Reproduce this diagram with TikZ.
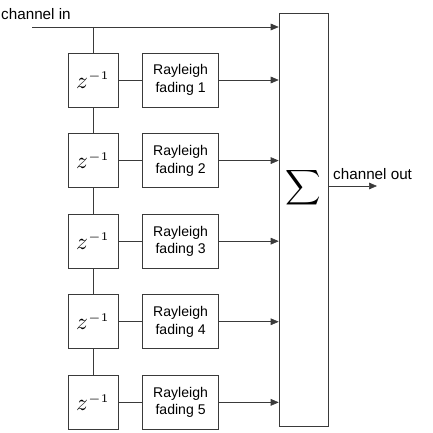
\documentclass[tikz,border=0pt]{standalone}
\usepackage{fontspec}
\setmainfont{Liberation Sans}
\usepackage{graphicx}
\usepackage{tikz}
\usetikzlibrary{positioning, arrows.meta}
\definecolor{wire}{HTML}{3a3a3a}
\tikzset{
  delaybox/.style={
    draw=wire, minimum height=1.62cm, minimum width=1.5cm,
    inner sep=0pt, line width=0.5pt
  },
  fadebox/.style={
    draw=wire, minimum height=1.62cm, minimum width=2.28cm,
    inner sep=0pt, align=center, line width=0.5pt,
    font=\fontsize{12}{15}\selectfont
  },
  sumbox/.style={
    draw=wire, minimum height=12.39cm, minimum width=1.47cm,
    inner sep=0pt, line width=0.5pt
  },
  sigline/.style={draw=wire, line width=0.5pt},
  sigarrow/.style={-{Triangle[length=2.4mm, width=2mm]}, draw=wire, line width=0.5pt},
  portlabel/.style={font=\fontsize{13}{15}\selectfont, inner sep=0pt}
}
\newcommand{\zdelay}{\scalebox{2}{$z^{\scriptscriptstyle -1}$}}

\begin{document}
\begin{tikzpicture}[x=0.03cm, y=0.03cm, node distance=0.78cm and 0.72cm]
      \useasboundingbox (0,0) rectangle (433,-433);

      % delay line
      \node[delaybox] (z1) at (93,-80) {\zdelay};
      \node[delaybox, below=of z1] (z2) {\zdelay};
      \node[delaybox, below=of z2] (z3) {\zdelay};
      \node[delaybox, below=of z3] (z4) {\zdelay};
      \node[delaybox, below=of z4] (z5) {\zdelay};

      % fading taps
      \node[fadebox, right=of z1] (ray1) {Rayleigh\\fading 1};
      \node[fadebox, right=of z2] (ray2) {Rayleigh\\fading 2};
      \node[fadebox, right=of z3] (ray3) {Rayleigh\\fading 3};
      \node[fadebox, right=of z4] (ray4) {Rayleigh\\fading 4};
      \node[fadebox, right=of z5] (ray5) {Rayleigh\\fading 5};

      % summing block
      \node[sumbox] (sum) at (303.5,-219.5) {};
      \node[inner sep=0pt] (sigma) at (303.5,-188) {\scalebox{2.1}{$\displaystyle\sum$}};

      \coordinate (in) at (32,-27);
      \coordinate (out) at (377,-186);
      \node[portlabel, anchor=west] (inlabel) at (1,-14) {channel in};
      \node[portlabel, anchor=south west] (outlabel) at (333,-180) {channel out};

      \draw[sigarrow] (in) -- (in -| sum.west);
      \draw[sigline] (in -| z1) -- (z1.north);
      \draw[sigline] (z1) -- (z2);
      \draw[sigline] (z2) -- (z3);
      \draw[sigline] (z3) -- (z4);
      \draw[sigline] (z4) -- (z5);

      \draw[sigline] (z1) -- (ray1);
      \draw[sigline] (z2) -- (ray2);
      \draw[sigline] (z3) -- (ray3);
      \draw[sigline] (z4) -- (ray4);
      \draw[sigline] (z5) -- (ray5);

      \draw[sigarrow] (ray1) -- (ray1 -| sum.west);
      \draw[sigarrow] (ray2) -- (ray2 -| sum.west);
      \draw[sigarrow] (ray3) -- (ray3 -| sum.west);
      \draw[sigarrow] (ray4) -- (ray4 -| sum.west);
      \draw[sigarrow] (ray5) -- (ray5 -| sum.west);

      \draw[sigarrow] (out -| sum.east) -- (out);
    \end{tikzpicture}
\end{document}
